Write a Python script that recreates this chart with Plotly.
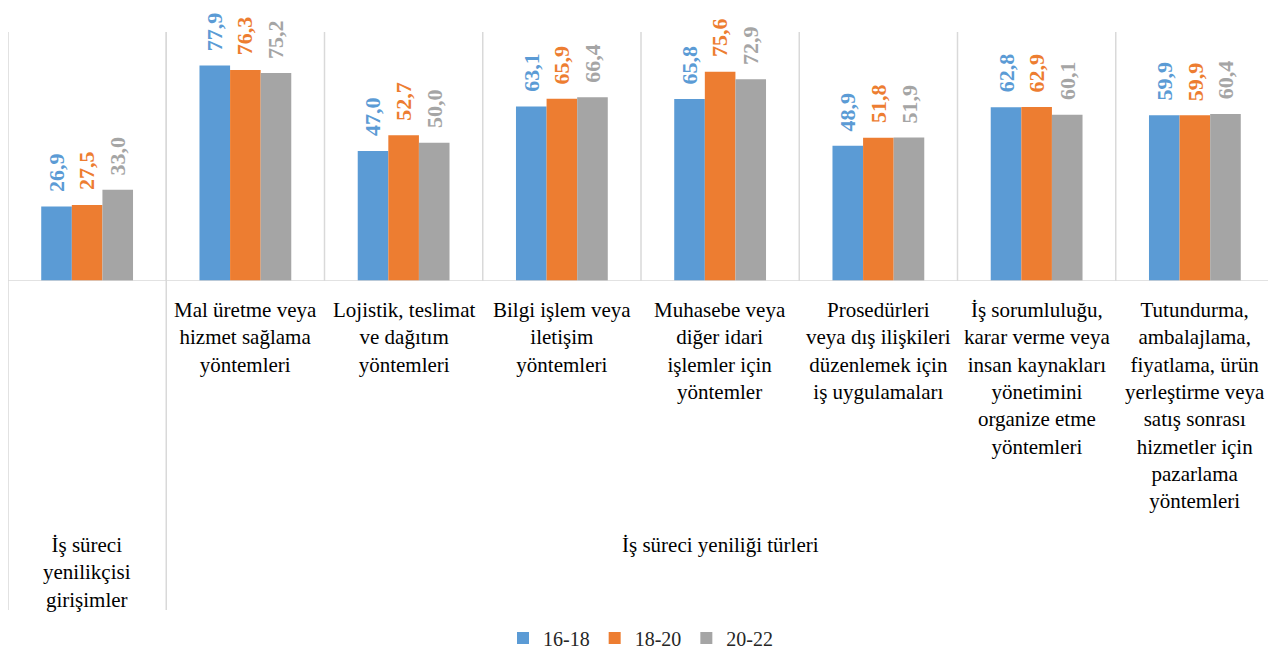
import plotly.graph_objects as go

series_names = ["16-18", "18-20", "20-22"]
colors = ["#5B9BD5", "#ED7D31", "#A5A5A5"]
v_16_18 = [26.9, 77.9, 47.0, 63.1, 65.8, 48.9, 62.8, 59.9]
v_18_20 = [27.5, 76.3, 52.7, 65.9, 75.6, 51.8, 62.9, 59.9]
v_20_22 = [33.0, 75.2, 50.0, 66.4, 72.9, 51.9, 60.1, 60.4]
series_values = [v_16_18, v_18_20, v_20_22]
category_labels = [
    "",
    "Mal üretme veya<br>hizmet sağlama<br>yöntemleri",
    "Lojistik, teslimat<br>ve dağıtım<br>yöntemleri",
    "Bilgi işlem veya<br>iletişim<br>yöntemleri",
    "Muhasebe veya<br>diğer idari<br>işlemler için<br>yöntemler",
    "Prosedürleri<br>veya dış ilişkileri<br>düzenlemek için<br>iş uygulamaları",
    "İş sorumluluğu,<br>karar verme veya<br>insan kaynakları<br>yönetimini<br>organize etme<br>yöntemleri",
    "Tutundurma,<br>ambalajlama,<br>fiyatlama, ürün<br>yerleştirme veya<br>satış sonrası<br>hizmetler için<br>pazarlama<br>yöntemleri",
]
group_labels = ["İş süreci<br>yenilikçisi<br>girişimler", "İş süreci yeniliği türleri"]
group_spans = [(0, 0), (1, 7)]

FONT = "Liberation Serif"
BARGAP = 0.42
OFF = 8  # page body margin offset
W, H = 1276 - OFF, 654 - OFF
ml, mr, mt, mb = 8 - OFF, 2, 32 - OFF, 373
ph = H - mt - mb

def py(pix):
    # convert absolute screen pixel y to paper coordinate
    return (H - mb - (pix - OFF)) / ph

x = list(range(len(v_16_18)))
ns = len(series_values)
bw = (1 - BARGAP) / ns
fig = go.Figure()
annotations = []
for k, (name, vals, col) in enumerate(zip(series_names, series_values, colors)):
    fig.add_trace(go.Bar(
        x=x, y=vals, name=name, marker=dict(color=col, line=dict(width=0)),
    ))
    off = (k - (ns - 1) / 2) * bw
    for xi, v in zip(x, vals):
        annotations.append(dict(
            x=xi + off, y=v, xref="x", yref="y", text=f"{v:.1f}".replace(".", ","),
            textangle=-90, showarrow=False, xanchor="center", yanchor="middle", yshift=34,
            font=dict(family=FONT, size=22, color=col, weight="bold"),
        ))

grid = "#D9D9D9"
shapes = []
n = len(x)
for i in range(1, n):
    shapes.append(dict(type="line", xref="x", yref="paper", x0=i - 0.5, x1=i - 0.5,
                       y0=0, y1=1, line=dict(color=grid, width=1.5)))
for b in [-0.5, 0.5, n - 0.5]:
    shapes.append(dict(type="line", xref="x", yref="paper", x0=b, x1=b,
                       y0=py(610), y1=1, line=dict(color=grid, width=1.5)))
shapes.append(dict(type="line", xref="x", yref="y", x0=-0.5, x1=n - 0.5, y0=0, y1=0,
                   line=dict(color=grid, width=1.5)))

lab_font = dict(family=FONT, size=21, color="#000000")
for i, lab in enumerate(category_labels):
    if lab:
        annotations.append(dict(x=i, y=py(296), xref="x", yref="paper", text=lab,
                                showarrow=False, yanchor="top", xanchor="center", font=lab_font))
annotations.append(dict(x=0, y=py(531), xref="x", yref="paper", text=group_labels[0],
                        showarrow=False, yanchor="top", xanchor="center", font=lab_font))
annotations.append(dict(x=(group_spans[1][0] + group_spans[1][1]) / 2, y=py(531), xref="x", yref="paper",
                        text=group_labels[1], showarrow=False, yanchor="top", xanchor="center",
                        font=lab_font))

fig.update_layout(
    width=W, height=H,
    margin=dict(l=ml, r=mr, t=mt, b=mb, pad=0, autoexpand=False),
    plot_bgcolor="white", paper_bgcolor="white",
    barmode="group", bargap=BARGAP, bargroupgap=0,
    separators=",.",
    xaxis=dict(range=[-0.5, n - 0.5], showticklabels=False, showgrid=False, zeroline=False,
               showline=False, ticks=""),
    yaxis=dict(range=[0, 90], showticklabels=False, showgrid=False, zeroline=False,
               showline=False, ticks=""),
    showlegend=True,
    legend=dict(orientation="h", x=0.5, xanchor="center", y=py(638), yanchor="middle",
                font=dict(family=FONT, size=20, color="#262626"), itemwidth=30,
                traceorder="normal"),
    shapes=shapes,
    annotations=annotations,
    font=dict(family=FONT),
)
fig.write_html("out.html")
